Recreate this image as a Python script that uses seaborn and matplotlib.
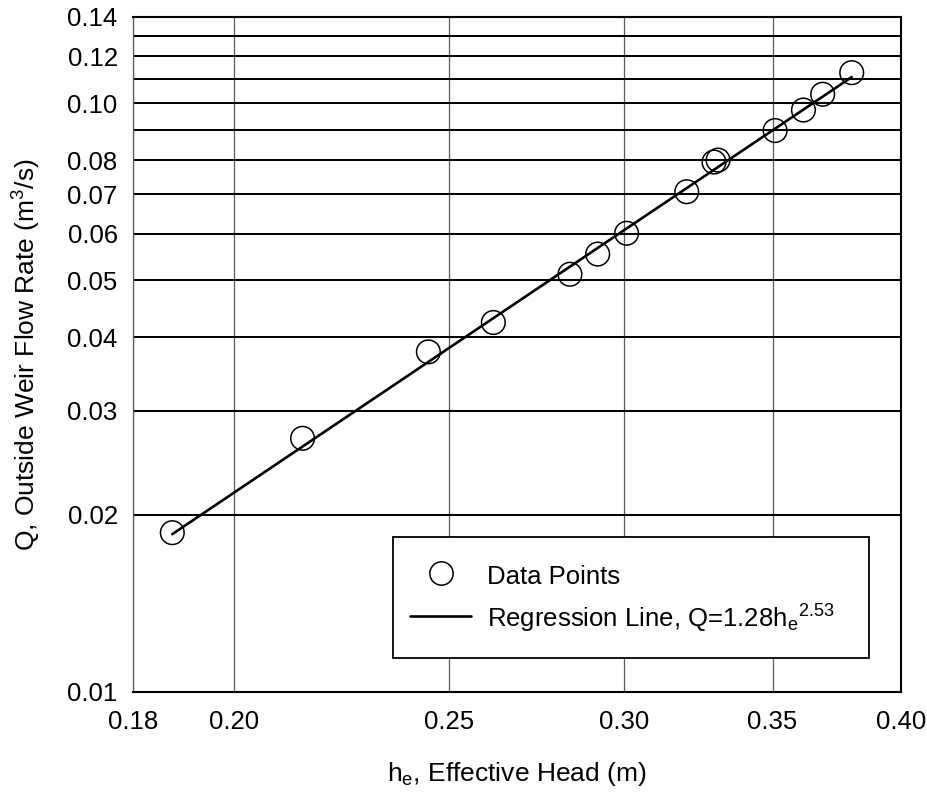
import numpy as np
import pandas as pd
import matplotlib
matplotlib.use("Agg")
import matplotlib.pyplot as plt
from matplotlib.ticker import FixedLocator, FixedFormatter, NullLocator, NullFormatter
from matplotlib.lines import Line2D
from matplotlib.legend_handler import HandlerLine2D
import seaborn as sns

# Measured effective head (m) and outside weir flow rate (m^3/s)
head_m = [0.1875, 0.2147, 0.2447, 0.2618, 0.2835, 0.2918, 0.3007, 0.3201,
          0.3293, 0.3307, 0.3509, 0.3614, 0.3687, 0.3800]
flow_m3s = [0.01864, 0.02696, 0.0378, 0.0424, 0.0512, 0.0554, 0.0601, 0.0707,
            0.0794, 0.0800, 0.0898, 0.0973, 0.1035, 0.1126]

# Power-law regression Q = a * h^b
reg_coef = 1.28
reg_exp = 2.53

x_ticks = [0.18, 0.20, 0.25, 0.30, 0.35, 0.40]
x_tick_labels = ["0.18", "0.20", "0.25", "0.30", "0.35", "0.40"]
y_ticks = [0.01, 0.02, 0.03, 0.04, 0.05, 0.06, 0.07, 0.08, 0.10, 0.12, 0.14]
y_tick_labels = ["0.01", "0.02", "0.03", "0.04", "0.05", "0.06", "0.07",
                 "0.08", "0.10", "0.12", "0.14"]
y_extra_grid = [0.09, 0.11, 0.13]

sns.set_style("white", {"text.color": "black", "axes.labelcolor": "black",
                        "xtick.color": "black", "ytick.color": "black"})
plt.rcParams["font.family"] = ["Liberation Sans", "DejaVu Sans"]
plt.rcParams["mathtext.fontset"] = "custom"
plt.rcParams["mathtext.rm"] = "Liberation Sans"
plt.rcParams["mathtext.it"] = "Liberation Sans"


class CenteredLineHandler(HandlerLine2D):
    """Line/marker legend handler nudged down to sit level with its label."""

    def __init__(self, shift=2.7, **kw):
        super().__init__(**kw)
        self.shift = shift

    def create_artists(self, legend, orig_handle, xdescent, ydescent,
                       width, height, fontsize, trans):
        artists = super().create_artists(legend, orig_handle, xdescent, ydescent,
                                         width, height, fontsize, trans)
        for art in artists:
            art.set_ydata(np.asarray(art.get_ydata()) - self.shift)
        return artists


df = pd.DataFrame({"head": head_m, "flow": flow_m3s})
h_fit = np.linspace(min(head_m), max(head_m), 200)
fit = pd.DataFrame({"head": h_fit, "flow": reg_coef * h_fit ** reg_exp})

fig = plt.figure(figsize=(9.27, 7.97), dpi=100)
ax = fig.add_axes([0.1435, 0.1318, 0.8285, 0.8469])
ax.set_xscale("log")
ax.set_yscale("log")

sns.lineplot(data=fit, x="head", y="flow", ax=ax, color="black", lw=1.9, zorder=3)
sns.scatterplot(data=df, x="head", y="flow", ax=ax, marker="o", s=290,
                facecolors="none", edgecolor="black", linewidth=1.1, zorder=4)

ax.set_xlim(0.18, 0.40)
ax.set_ylim(0.01, 0.14)

ax.xaxis.set_major_locator(FixedLocator(x_ticks))
ax.xaxis.set_major_formatter(FixedFormatter(x_tick_labels))
ax.xaxis.set_minor_locator(NullLocator())
ax.xaxis.set_minor_formatter(NullFormatter())
ax.yaxis.set_major_locator(FixedLocator(y_ticks))
ax.yaxis.set_major_formatter(FixedFormatter(y_tick_labels))
ax.yaxis.set_minor_locator(FixedLocator(y_extra_grid))
ax.yaxis.set_minor_formatter(NullFormatter())

ax.tick_params(axis="both", which="both", length=0, labelsize=18.5,
               labelcolor="black")
ax.tick_params(axis="x", pad=13)
ax.tick_params(axis="y", pad=11)

ax.grid(True, axis="y", which="both", color="black", lw=1.45, zorder=1)
ax.grid(True, axis="x", which="major", color="0.35", lw=0.9, zorder=1)

for side in ["top", "right", "bottom"]:
    ax.spines[side].set_color("black")
    ax.spines[side].set_linewidth(1.5)
ax.spines["left"].set_color("0.35")
ax.spines["left"].set_linewidth(0.9)

ax.set_xlabel(r"h$_\mathregular{e}$, Effective Head (m)", fontsize=19,
              color="black")
ax.set_ylabel(r"Q, Outside Weir Flow Rate (m$^\mathregular{3}$/s)", fontsize=19,
              color="black")
ax.xaxis.set_label_coords(0.5, -0.101)
ax.yaxis.set_label_coords(-0.117, 0.5)

handles = [
    Line2D([], [], marker="o", ls="none", markersize=16.8, markerfacecolor="none",
           markeredgecolor="black", markeredgewidth=1.1),
    Line2D([], [], color="black", lw=1.9),
]
labels = ["Data Points",
          r"Regression Line, Q=1.28h$_\mathregular{e}{}^\mathregular{2.53}$"]
leg = ax.legend(handles, labels, loc="lower left",
                bbox_to_anchor=(0.338, 0.050, 0.620, 0.18), mode="expand",
                borderaxespad=0, fontsize=18.5, frameon=True, fancybox=False,
                shadow=False, handlelength=2.4, handletextpad=0.6,
                handleheight=2.2, borderpad=0.67, labelspacing=0.03,
                labelcolor="black",
                handler_map={Line2D: CenteredLineHandler(shift=2.7)})
leg.get_frame().set_edgecolor("black")
leg.get_frame().set_linewidth(1.3)
leg.get_frame().set_alpha(1)
leg.set_zorder(5)

fig.savefig("out.png", dpi=100)
